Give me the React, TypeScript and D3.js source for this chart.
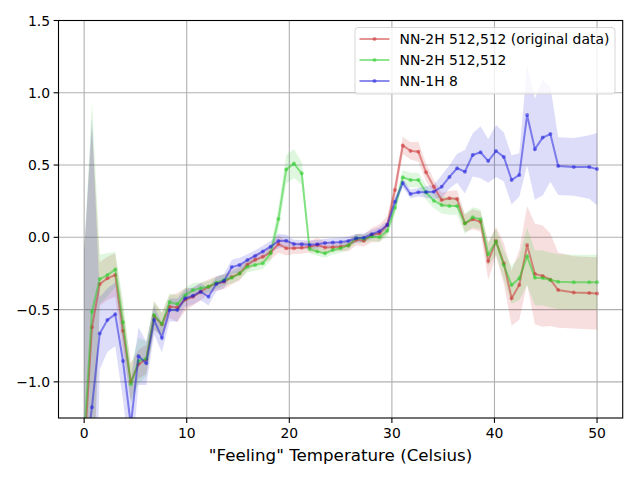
import React from 'react';
import * as d3 from 'd3';

// "feeling" temperature bins (Celsius)
const TEMPS = [
  0, 0.76, 1.52, 2.27, 3.03, 3.79, 4.55, 5.3, 6.06, 6.82,
  7.58, 8.33, 9.09, 9.85, 10.61, 11.36, 12.12, 12.88, 13.64, 14.39,
  15.15, 15.91, 16.67, 17.42, 18.18, 18.94, 19.7, 20.45, 21.21, 21.97,
  22.73, 23.48, 24.24, 25.0, 25.76, 26.52, 27.27, 28.03, 28.79, 29.55,
  30.3, 31.06, 31.82, 32.58, 33.33, 34.09, 34.85, 35.61, 36.36, 37.12,
  37.88, 38.64, 39.39, 40.15, 40.91, 41.67, 42.42, 43.18, 43.94, 44.7,
  45.45, 46.21, 47.73, 49.24, 50.0,
];

const RED_MEAN = [
  -1.5, -0.623, -0.323, -0.284, -0.261, -0.646, -0.999, -0.877, -0.845, -0.545,
  -0.602, -0.48, -0.485, -0.43, -0.411, -0.376, -0.342, -0.319, -0.307, -0.275,
  -0.25, -0.19, -0.155, -0.135, -0.105, -0.046, -0.076, -0.076, -0.073, -0.065,
  -0.053, -0.07, -0.068, -0.065, -0.056, -0.016, -0.023, 0.016, 0.028, 0.085,
  0.327, 0.635, 0.598, 0.592, 0.45, 0.35, 0.258, 0.27, 0.265, 0.097,
  0.125, 0.108, -0.164, -0.028, -0.18, -0.422, -0.33, -0.053, -0.254, -0.268,
  -0.293, -0.365, -0.381, -0.386, -0.388,
];
const RED_SD = [
  1.4, 1.4, 0.15, 0.15, 0.15, 0.15, 0.13, 0.1, 0.1, 0.1,
  0.08, 0.08, 0.1, 0.08, 0.06, 0.06, 0.05, 0.05, 0.05, 0.05,
  0.05, 0.04, 0.04, 0.04, 0.05, 0.06, 0.05, 0.04, 0.04, 0.04,
  0.05, 0.04, 0.03, 0.03, 0.04, 0.04, 0.04, 0.05, 0.06, 0.06,
  0.06, 0.06, 0.06, 0.07, 0.06, 0.05, 0.05, 0.05, 0.06, 0.06,
  0.07, 0.07, 0.13, 0.1, 0.14, 0.19, 0.24, 0.27, 0.35, 0.35,
  0.32, 0.26, 0.25, 0.25, 0.25,
];

const GREEN_MEAN = [
  -1.4, -0.515, -0.289, -0.261, -0.222, -0.588, -1.017, -0.856, -0.84, -0.538,
  -0.6, -0.448, -0.462, -0.4, -0.365, -0.353, -0.342, -0.314, -0.295, -0.28,
  -0.25, -0.203, -0.192, -0.18, -0.111, 0.126, 0.47, 0.51, 0.443, -0.08,
  -0.098, -0.111, -0.088, -0.076, -0.056, -0.007, -0.01, 0.005, 0, 0.045,
  0.204, 0.415, 0.397, 0.397, 0.31, 0.253, 0.224, 0.217, 0.217, 0.095,
  0.138, 0.125, -0.117, -0.03, -0.192, -0.33, -0.284, -0.132, -0.28, -0.282,
  -0.295, -0.307, -0.31, -0.31, -0.31,
];
const GREEN_SD = [
  1.3, 1.45, 0.17, 0.15, 0.12, 0.15, 0.13, 0.16, 0.12, 0.1,
  0.08, 0.06, 0.06, 0.05, 0.05, 0.04, 0.04, 0.04, 0.04, 0.04,
  0.04, 0.04, 0.04, 0.04, 0.05, 0.08, 0.1, 0.1, 0.08, 0.03,
  0.03, 0.03, 0.03, 0.03, 0.03, 0.03, 0.03, 0.03, 0.03, 0.04,
  0.05, 0.05, 0.05, 0.05, 0.05, 0.05, 0.06, 0.06, 0.06, 0.07,
  0.07, 0.07, 0.08, 0.09, 0.1, 0.13, 0.15, 0.2, 0.19, 0.19,
  0.19, 0.19, 0.19, 0.19, 0.19,
];

const BLUE_MEAN = [
  -1.6, -1.176, -0.665, -0.572, -0.533, -0.856, -1.3, -0.822, -0.872, -0.572,
  -0.695, -0.503, -0.503, -0.422, -0.404, -0.376, -0.411, -0.323, -0.302, -0.206,
  -0.192, -0.157, -0.129, -0.098, -0.065, -0.025, -0.023, -0.046, -0.048, -0.052,
  -0.048, -0.04, -0.035, -0.032, -0.025, -0.007, -0.003, 0.021, 0.042, 0.085,
  0.246, 0.376, 0.3, 0.312, 0.313, 0.316, 0.35, 0.418, 0.478, 0.454,
  0.57, 0.588, 0.528, 0.597, 0.556, 0.397, 0.431, 0.846, 0.61, 0.69,
  0.714, 0.493, 0.487, 0.487, 0.472,
];
const BLUE_SD = [
  1.5, 2.0, 0.25, 0.22, 0.22, 0.27, 0.3, 0.2, 0.15, 0.1,
  0.1, 0.08, 0.08, 0.06, 0.06, 0.06, 0.06, 0.05, 0.05, 0.05,
  0.05, 0.04, 0.04, 0.04, 0.04, 0.05, 0.04, 0.03, 0.03, 0.03,
  0.03, 0.03, 0.03, 0.03, 0.03, 0.03, 0.03, 0.03, 0.03, 0.03,
  0.03, 0.03, 0.03, 0.03, 0.04, 0.05, 0.08, 0.08, 0.1, 0.15,
  0.15, 0.18, 0.15, 0.18, 0.17, 0.17, 0.15, 0.35, 0.35, 0.4,
  0.33, 0.2, 0.2, 0.22, 0.25,
];

const X_TICKS = [0, 10, 20, 30, 40, 50];
const Y_TICKS = [-1.0, -0.5, 0.0, 0.5, 1.0, 1.5];

const SERIES = [
  { name: 'NN-2H 512,512 (original data)', color: '#cc2a2a', mean: RED_MEAN, sd: RED_SD },
  { name: 'NN-2H 512,512', color: '#22cc22', mean: GREEN_MEAN, sd: GREEN_SD },
  { name: 'NN-1H 8', color: '#1a1add', mean: BLUE_MEAN, sd: BLUE_SD },
];

const FONT = '"DejaVu Sans", sans-serif';

export default function App() {
  const left = 58.5, right = 622.7, top = 20.5, bottom = 418;

  const x = d3.scaleLinear().domain([-2.5, 52.5]).range([left, right]);
  const y = d3.scaleLinear().domain([-1.25, 1.5]).range([bottom, top]);

  const line = d3.line<number>()
    .x((_, i) => x(TEMPS[i]))
    .y(d => y(d));

  const band = (mean: number[], sd: number[]) =>
    d3.area<number>()
      .x((_, i) => x(TEMPS[i]))
      .y0((d, i) => y(d - sd[i]))
      .y1((d, i) => y(d + sd[i]))(mean) || '';

  // legend box
  const lgX = 355, lgY = 27.5, lgW = 260, lgH = 66.5;

  return (
    <>
      <style>{'body{margin:0}'}</style>
      <svg width={640} height={480} style={{ display: 'block', fontFamily: FONT }}>
        <rect width={640} height={480} fill="#fff" />
        <defs>
          <clipPath id="plot-area">
            <rect x={left} y={top} width={right - left} height={bottom - top} />
          </clipPath>
        </defs>

        {/* grid */}
        {X_TICKS.map(t => (
          <line key={'gx' + t} x1={x(t)} x2={x(t)} y1={top} y2={bottom} stroke="#b0b0b0" strokeWidth={1.1} />
        ))}
        {Y_TICKS.map(t => (
          <line key={'gy' + t} x1={left} x2={right} y1={y(t)} y2={y(t)} stroke="#b0b0b0" strokeWidth={1.1} />
        ))}

        <g clipPath="url(#plot-area)">
          {SERIES.map(s => (
            <path key={'b' + s.name} d={band(s.mean, s.sd)} fill={s.color} fillOpacity={0.15} />
          ))}
          {SERIES.map(s => (
            <g key={'l' + s.name}>
              <path d={line(s.mean) || ''} fill="none" stroke={s.color} strokeOpacity={0.5} strokeWidth={2} />
              {s.mean.map((v, i) => (
                <circle key={i} cx={x(TEMPS[i])} cy={y(v)} r={2} fill={s.color} fillOpacity={0.5} />
              ))}
            </g>
          ))}
        </g>

        {/* axes frame */}
        <rect x={left} y={top} width={right - left} height={bottom - top} fill="none" stroke="#000" strokeWidth={1.1} />

        {X_TICKS.map(t => (
          <g key={'tx' + t}>
            <line x1={x(t)} x2={x(t)} y1={bottom} y2={bottom + 4.9} stroke="#000" strokeWidth={1.1} />
            <text x={x(t)} y={bottom + 19.5} textAnchor="middle" fontSize={13.9} fill="#000">{t}</text>
          </g>
        ))}
        {Y_TICKS.map(t => (
          <g key={'ty' + t}>
            <line x1={left - 4.9} x2={left} y1={y(t)} y2={y(t)} stroke="#000" strokeWidth={1.1} />
            <text x={left - 8.4} y={y(t) + 5} textAnchor="end" fontSize={13.9} fill="#000">
              {t < 0 ? '\u2212' + Math.abs(t).toFixed(1) : t.toFixed(1)}
            </text>
          </g>
        ))}

        <text x={(left + right) / 2} y={460.5} textAnchor="middle" fontSize={16.7} fill="#000">
          "Feeling" Temperature (Celsius)
        </text>

        {/* legend */}
        <rect x={lgX} y={lgY} width={lgW} height={lgH} rx={3} fill="#fff" fillOpacity={0.8} stroke="#cccccc" strokeOpacity={0.8} />
        {SERIES.map((s, i) => {
          const ry = 39 + i * 21;
          return (
            <g key={'lg' + s.name}>
              <line x1={359.5} x2={389.5} y1={ry} y2={ry} stroke={s.color} strokeOpacity={0.5} strokeWidth={2} />
              <circle cx={374.5} cy={ry} r={2} fill={s.color} fillOpacity={0.5} />
              <text x={399.5} y={ry + 5} fontSize={13.9} fill="#000">{s.name}</text>
            </g>
          );
        })}
      </svg>
    </>
  );
}
